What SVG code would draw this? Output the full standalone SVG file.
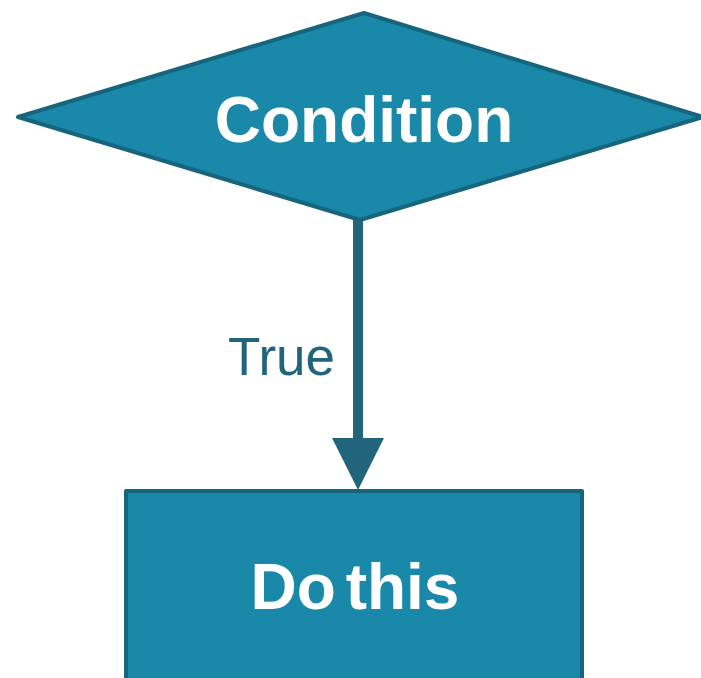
<svg xmlns="http://www.w3.org/2000/svg" width="701" height="678" viewBox="0 0 701 678">
<defs>
<style>
.node{fill:#1a89a9;stroke:#17647d;stroke-width:4;stroke-linejoin:round}
.lbl{font-family:"Liberation Sans",Arial,sans-serif;font-weight:bold;fill:#ffffff;text-anchor:middle}
.edge{stroke:#23647d;stroke-width:10;fill:none}
.elbl{font-family:"Liberation Sans",Arial,sans-serif;fill:#23647d;font-size:53px}
</style>
</defs>
<rect width="701" height="678" fill="#ffffff"/>
<g id="connectors">
<line class="edge" x1="358" y1="220" x2="358" y2="440"/>
<polygon points="332,438 384,438 358,490" fill="#23647d"/>
<text class="elbl" x="228" y="375">True</text>
</g>
<g id="condition">
<polygon class="node" points="364,13 703,117 360,220 18,117"/>
<text class="lbl" x="364" y="142" font-size="64">Condition</text>
</g>
<g id="do-this">
<rect class="node" x="126" y="491" width="456" height="200"/>
<text class="lbl" x="355" y="609" font-size="64" word-spacing="-8">Do this</text>
</g>
</svg>
